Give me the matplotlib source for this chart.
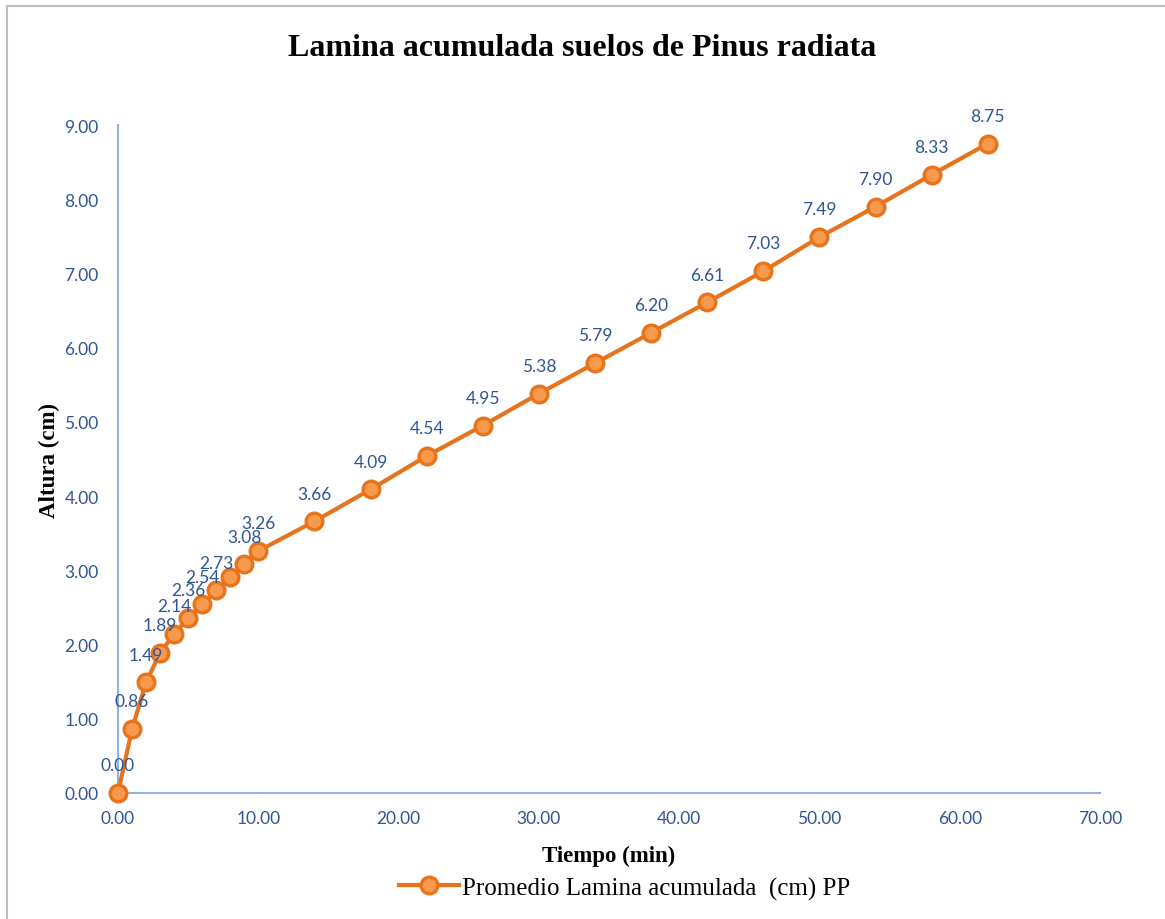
import numpy as np
import matplotlib.pyplot as plt
from matplotlib.lines import Line2D

# tiempo (min) y lamina acumulada promedio (cm)
tiempo = [0, 1, 2, 3, 4, 5, 6, 7, 8, 9, 10, 14, 18, 22, 26, 30, 34, 38, 42, 46, 50, 54, 58, 62]
lamina = [0.00, 0.86, 1.49, 1.89, 2.14, 2.36, 2.54, 2.73, 2.91, 3.08, 3.26, 3.66, 4.09, 4.54,
          4.95, 5.38, 5.79, 6.20, 6.61, 7.03, 7.49, 7.90, 8.33, 8.75]
sin_etiqueta = [8]  # etiqueta oculta por solapamiento

x_ticks = np.arange(0, 71, 10)
y_ticks = np.arange(0, 10, 1)

naranja = '#E8731A'
relleno = '#F79A4E'
azul_txt = '#2F5597'
azul_eje = '#8FB4E3'
sans = ['Lato', 'DejaVu Sans']
serif = 'Liberation Serif'

fig = plt.figure(figsize=(11.65, 9.2), dpi=100)
ax = fig.add_axes([118 / 1165, 1 - 794 / 920, (1100 - 118) / 1165, (794 - 126) / 920])

ax.plot(tiempo, lamina, color=naranja, lw=3, marker='o', ms=12,
        mfc=relleno, mec=naranja, mew=2.4, clip_on=False, zorder=3,
        label='Promedio Lamina acumulada  (cm) PP')

for i, (x, y) in enumerate(zip(tiempo, lamina)):
    if i in sin_etiqueta:
        continue
    ax.annotate(f'{y:.2f}', (x, y), xytext=(0, 20), textcoords='offset points',
                ha='center', va='center', fontsize=12.5, color=azul_txt, family=sans)

ax.set_xlim(0, 70)
ax.set_ylim(0, 9)
ax.set_xticks(x_ticks)
ax.set_yticks(y_ticks)
ax.set_xticklabels([f'{v:.2f}' for v in x_ticks], family=sans)
ax.set_yticklabels([f'{v:.2f}' for v in y_ticks], family=sans)
ax.tick_params(length=0, labelsize=12.5, labelcolor=azul_txt)
ax.tick_params(axis='x', pad=12)
ax.tick_params(axis='y', pad=14)

for s in ['top', 'right']:
    ax.spines[s].set_visible(False)
for s in ['left', 'bottom']:
    ax.spines[s].set_color(azul_eje)
    ax.spines[s].set_linewidth(1.5)

ax.set_xlabel('Tiempo (min)', family=serif, fontweight='bold', fontsize=16.5, labelpad=14)
ax.set_ylabel('Altura (cm)', family=serif, fontweight='bold', fontsize=16.5, labelpad=3)

fig.text(0.5, 1 - 49 / 920, 'Lamina acumulada suelos de Pinus radiata', ha='center',
         va='center', family=serif, fontweight='bold', fontsize=23)

ax.legend(loc='center', bbox_to_anchor=(0.516, (794 - 889) / (794 - 126)), frameon=False,
          prop={'family': serif, 'size': 18}, handlelength=2.4, handletextpad=0.15)

# marco exterior
fig.add_artist(Line2D([7 / 1165, 7 / 1165], [0, 1 - 7 / 920], color='#BFBFBF', lw=1.5))
fig.add_artist(Line2D([7 / 1165, 1], [1 - 7 / 920, 1 - 7 / 920], color='#BFBFBF', lw=1.5))

fig.savefig('out.png', dpi=100)
